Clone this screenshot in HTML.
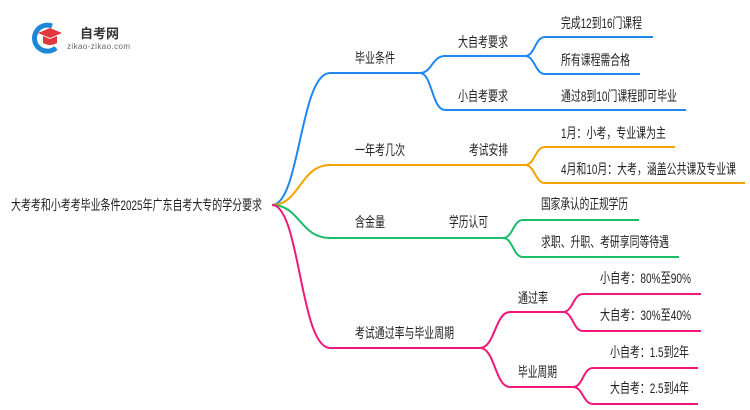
<!DOCTYPE html>
<html><head><meta charset="utf-8"><style>
html,body{margin:0;padding:0;background:#fff;}
svg{display:block}
text{font-family:"Liberation Sans","Noto Sans CJK SC",sans-serif;fill:#222;font-size:14px}
</style></head><body>
<svg width="750" height="410" viewBox="0 0 750 410" xmlns="http://www.w3.org/2000/svg">
<!-- logo -->
<path d="M52 26 A13 13 0 1 0 56 48" fill="none" stroke="#1e88d8" stroke-width="5"/>
<path d="M38 33 L50 28 L62 33 L50 38 Z" fill="#e0383e"/>
<path d="M43 36 L43 43 Q50 47 57 43 L57 36 L50 39 Z" fill="#e0383e"/>
<text x="80" y="38" style="font-size:13px;font-weight:bold;fill:#333">自考网</text>
<text x="67" y="49" style="font-size:8px;fill:#666" textLength="63">zikao-zikao.com</text>

<text x="11" y="210" textLength="251" lengthAdjust="spacingAndGlyphs">大考考和小考考毕业条件2025年广东自考大专的学分要求</text>

<g fill="none" stroke-width="2">
<g stroke="#1e88f0">
<path d="M272 205 C300 205 300 73 330 73 L420 73"/>
<path d="M420 73 C432 73 432 56 445 56 L525 56"/>
<path d="M420 73 C432 73 432 110 445 110 L686 110"/>
<path d="M525 56 C535 56 535 37 545 37 L653 37"/>
<path d="M525 56 C535 56 535 74 545 74 L640 74"/>
</g>
<g stroke="#f2a300">
<path d="M272 205 C300 205 300 165 330 165 L525 165"/>
<path d="M525 165 C535 165 535 147 545 147 L675 147"/>
<path d="M525 165 C535 165 535 183 545 183 L745 183"/>
</g>
<g stroke="#1cbd6a">
<path d="M272 205 C300 205 300 238 330 238 L503 238"/>
<path d="M503 238 C513 238 513 220 523 220 L639 220"/>
<path d="M503 238 C513 238 513 257 523 257 L679 257"/>
</g>
<g stroke="#f0197a">
<path d="M272 205 C300 205 300 348 330 348 L480 348"/>
<path d="M480 348 C495 348 495 312 510 312 L563 312"/>
<path d="M480 348 C495 348 495 387 510 387 L573 387"/>
<path d="M563 312 C573 312 573 294 583 294 L701 294"/>
<path d="M563 312 C573 312 573 331 583 331 L701 331"/>
<path d="M573 387 C583 387 583 368 593 368 L698 368"/>
<path d="M573 387 C583 387 583 404 593 404 L698 404"/>
</g>
</g>

<g lengthAdjust="spacingAndGlyphs">
<text x="355" y="63" textLength="40" lengthAdjust="spacingAndGlyphs">毕业条件</text>
<text x="458" y="47" textLength="50" lengthAdjust="spacingAndGlyphs">大自考要求</text>
<text x="458" y="101" textLength="50" lengthAdjust="spacingAndGlyphs">小自考要求</text>
<text x="561" y="28" textLength="81" lengthAdjust="spacingAndGlyphs">完成12到16门课程</text>
<text x="561" y="65" textLength="69" lengthAdjust="spacingAndGlyphs">所有课程需合格</text>
<text x="561" y="101" textLength="116" lengthAdjust="spacingAndGlyphs">通过8到10门课程即可毕业</text>

<text x="355" y="155" textLength="50" lengthAdjust="spacingAndGlyphs">一年考几次</text>
<text x="469" y="155" textLength="39" lengthAdjust="spacingAndGlyphs">考试安排</text>
<text x="561" y="138" textLength="105" lengthAdjust="spacingAndGlyphs">1月：小考，专业课为主</text>
<text x="561" y="174" textLength="175" lengthAdjust="spacingAndGlyphs">4月和10月：大考，涵盖公共课及专业课</text>

<text x="355" y="227" textLength="30" lengthAdjust="spacingAndGlyphs">含金量</text>
<text x="449" y="227" textLength="39" lengthAdjust="spacingAndGlyphs">学历认可</text>
<text x="541" y="209" textLength="87" lengthAdjust="spacingAndGlyphs">国家承认的正规学历</text>
<text x="541" y="247" textLength="128" lengthAdjust="spacingAndGlyphs">求职、升职、考研享同等待遇</text>

<text x="355" y="338" textLength="99" lengthAdjust="spacingAndGlyphs">考试通过率与毕业周期</text>
<text x="518" y="303" textLength="30" lengthAdjust="spacingAndGlyphs">通过率</text>
<text x="518" y="377" textLength="39" lengthAdjust="spacingAndGlyphs">毕业周期</text>
<text x="600" y="283" textLength="91" lengthAdjust="spacingAndGlyphs">小自考：80%至90%</text>
<text x="600" y="320" textLength="91" lengthAdjust="spacingAndGlyphs">大自考：30%至40%</text>
<text x="610" y="357" textLength="79" lengthAdjust="spacingAndGlyphs">小自考：1.5到2年</text>
<text x="610" y="393" textLength="79" lengthAdjust="spacingAndGlyphs">大自考：2.5到4年</text>
</g>
</svg>
</body></html>
